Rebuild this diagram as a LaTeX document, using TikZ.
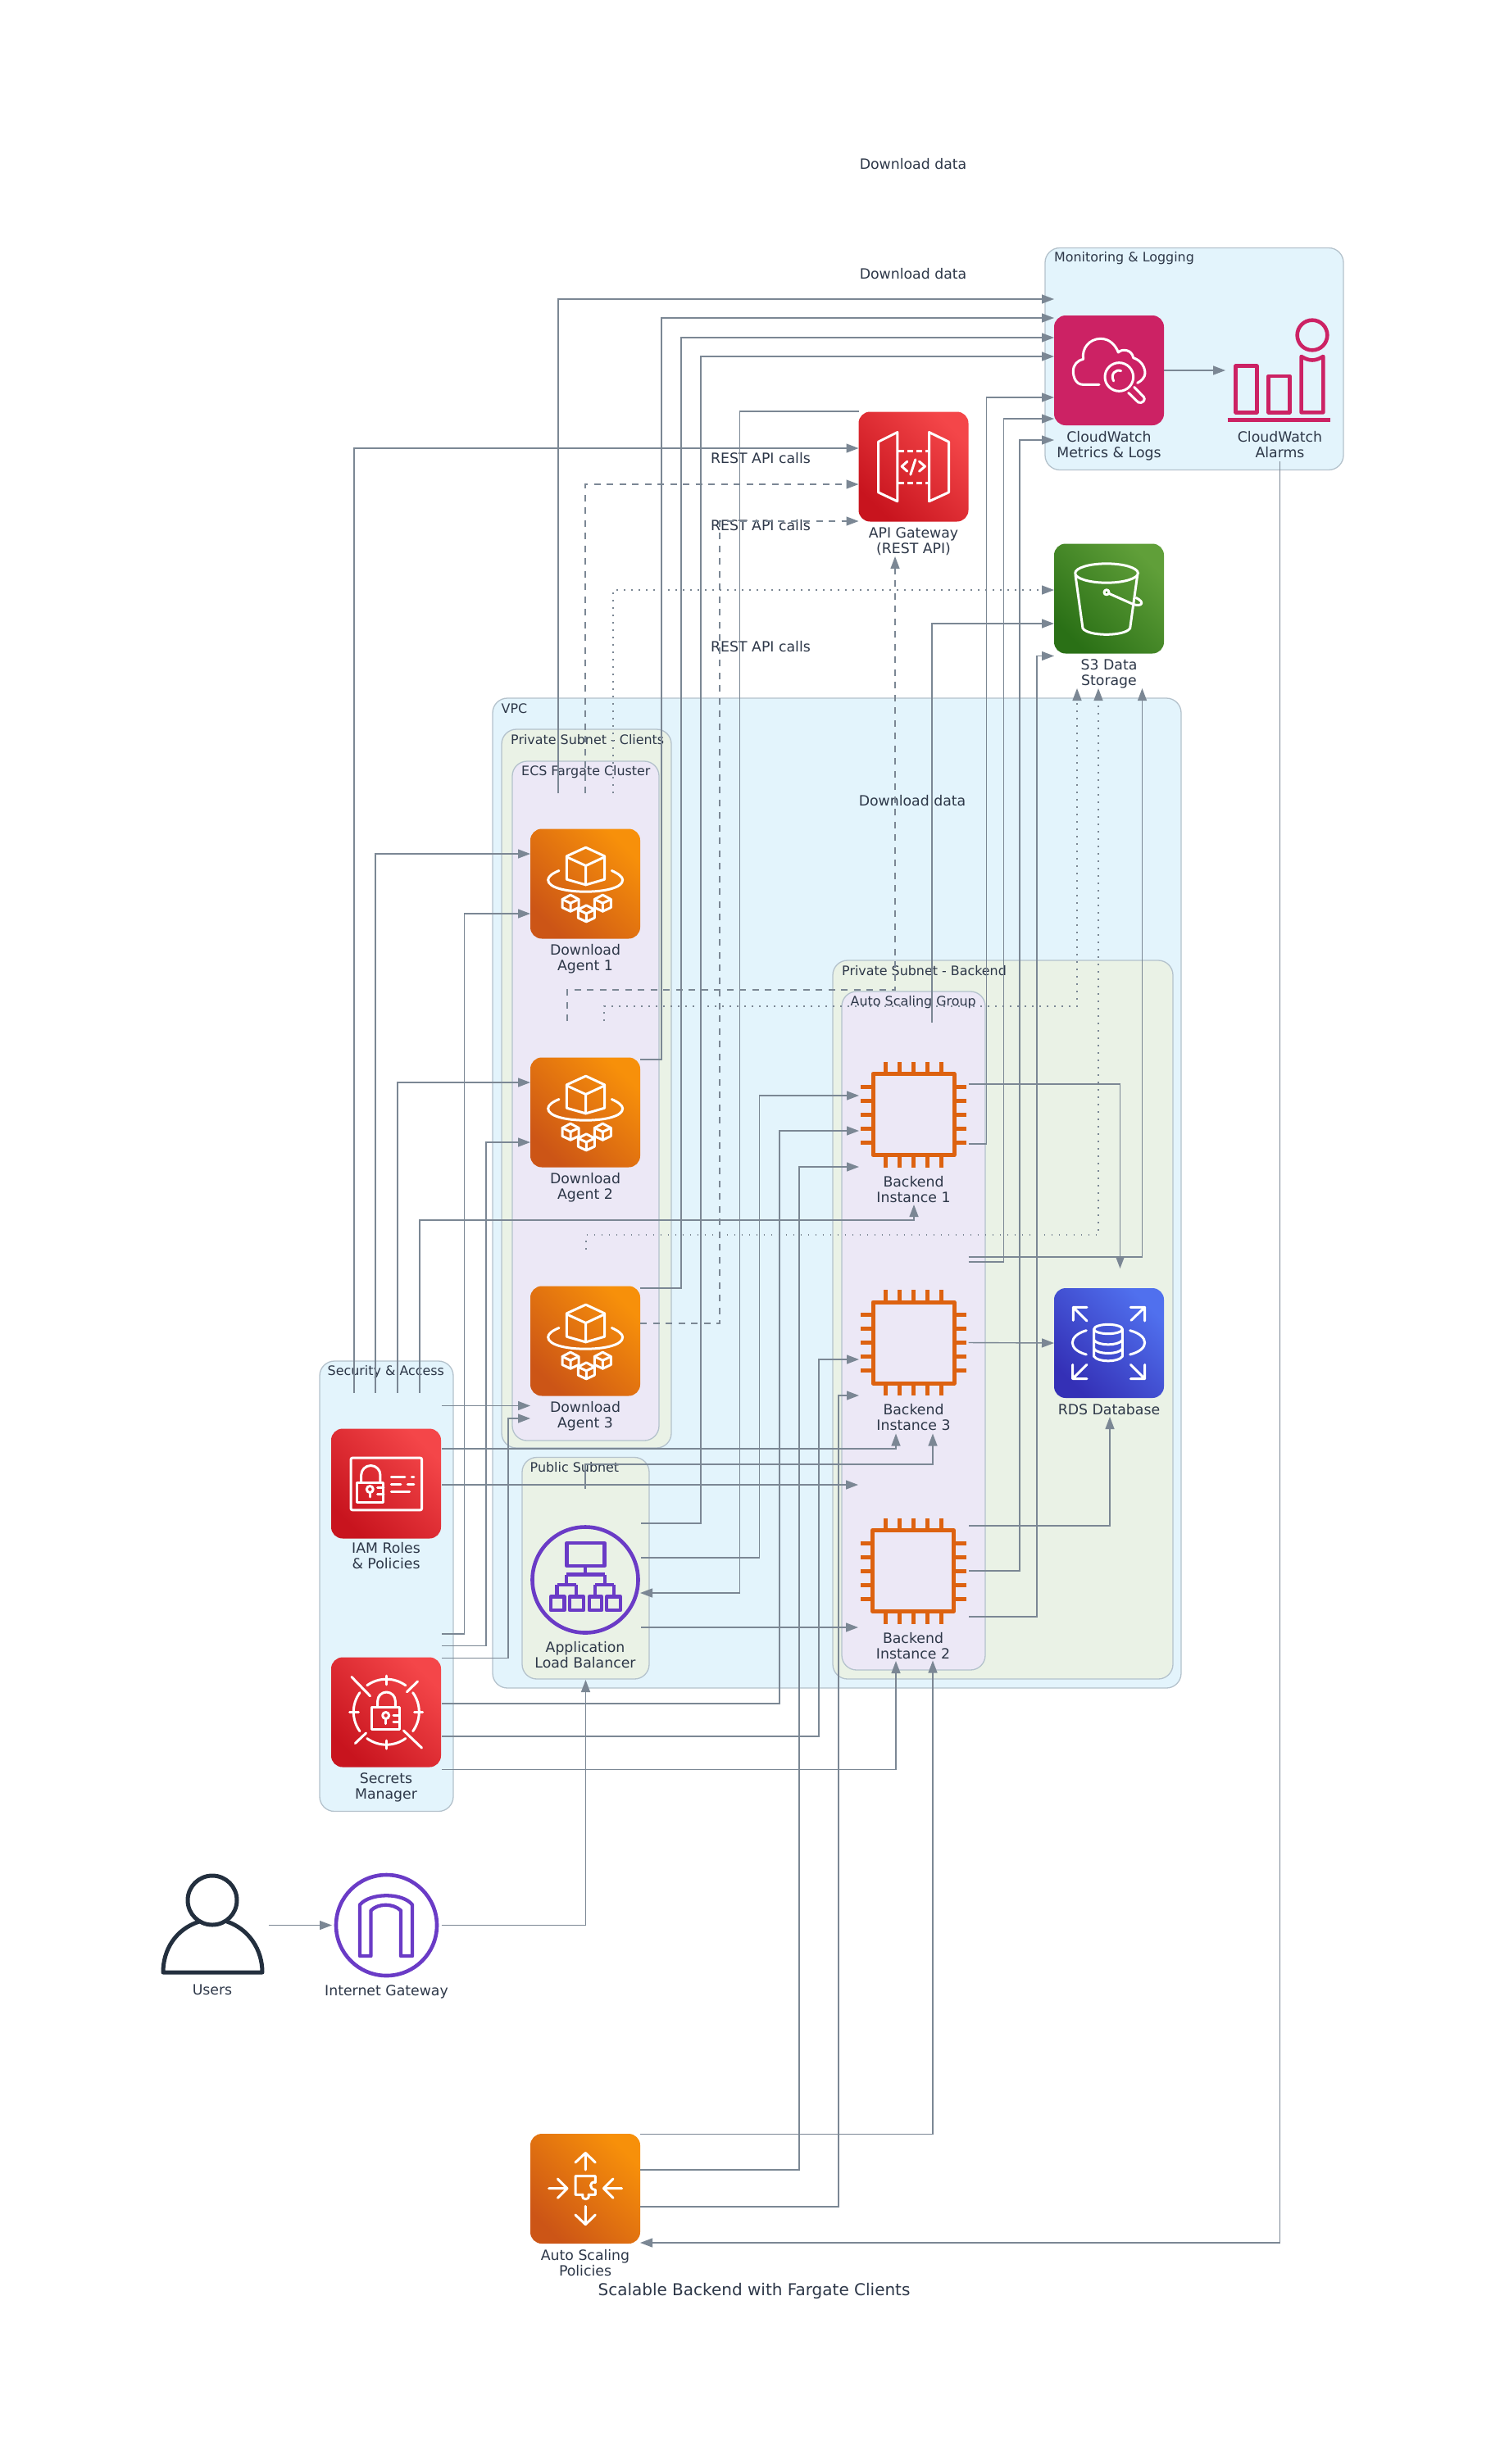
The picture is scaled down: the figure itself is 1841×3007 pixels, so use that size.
\documentclass[tikz,border=0pt]{standalone}
\usepackage{fontspec}
\setmainfont{DejaVu Sans}
\usetikzlibrary{arrows.meta,positioning}
\definecolor{flowline}{HTML}{7B8794}
\definecolor{txt}{HTML}{2D3748}
\definecolor{zoneline}{HTML}{B4C2CC}
\definecolor{zoneblue}{HTML}{E3F4FC}
\definecolor{zonegreen}{HTML}{EAF2E6}
\definecolor{zonepurple}{HTML}{ECE8F6}
\definecolor{orangelow}{HTML}{CC5516}
\definecolor{orangehigh}{HTML}{F7900A}
\definecolor{redlow}{HTML}{C8141E}
\definecolor{redhigh}{HTML}{F44649}
\definecolor{bluelow}{HTML}{3430B6}
\definecolor{bluehigh}{HTML}{5070EE}
\definecolor{greenlow}{HTML}{2A7016}
\definecolor{greenhigh}{HTML}{609F39}
\definecolor{pinkflat}{HTML}{CC2264}
\definecolor{chiporange}{HTML}{DD6210}
\definecolor{netpurple}{HTML}{6A3BC6}
\definecolor{usernavy}{HTML}{232F3E}

% glyphs, in crop units of a third of a pixel from the top left corner of the icon
\newcommand{\fargateglyph}[1]{
  \begin{scope}[shift={(#1.north west)},x=0.3333pt,y=-0.3333pt,glyph=white]
    \draw (203,68) -- (272,100) -- (272,185) -- (203,205) -- (133,185) -- (133,100) -- cycle;
    \draw (133,103) -- (203,135) -- (272,103) (203,135) -- (203,205);
    \draw (105,153) .. controls (80,163) and (65,175) .. (65,187) .. controls (65,215) and (130,230) .. (202,230) .. controls (275,230) and (338,215) .. (338,187) .. controls (338,175) and (320,163) .. (298,153);
    \foreach \cx/\cy in {147/272,205/310,265/272} {
      \begin{scope}[shift={(\cx,\cy)}]
        \draw (0,-30) -- (30,-14) -- (30,16) -- (0,30) -- (-30,16) -- (-30,-14) -- cycle;
        \draw (-30,-14) -- (0,0) -- (30,-14) (0,0) -- (0,30);
      \end{scope}
    }
  \end{scope}
}
\newcommand{\watchglyph}[1]{
  \begin{scope}[shift={(#1.north west)},x=0.3333pt,y=-0.3333pt,glyph=white]
    \draw (165,253) -- (105,253) .. controls (80,253) and (70,225) .. (70,205) .. controls (70,180) and (85,165) .. (107,160) .. controls (100,120) and (130,85) .. (170,85) .. controls (205,85) and (225,110) .. (235,135) .. controls (250,120) and (285,125) .. (290,155) .. controls (320,165) and (333,190) .. (333,212) .. controls (333,225) and (320,240) .. (305,247);
    \draw (238,225) circle[radius=52];
    \draw (218,240) .. controls (205,215) and (225,195) .. (245,203);
    \draw (272,283) -- (308,318) .. controls (322,325) and (338,308) .. (328,298) -- (293,262);
  \end{scope}
}
\newcommand{\alarmglyph}[1]{
  \begin{scope}[shift={(#1.center)},x=0.3333pt,y=-0.3333pt,xshift=-275.5pt,yshift=67pt,glyph=pinkflat,line width=4.6pt]
    \draw (945,72) circle[radius=55];
    \draw (665,185) rectangle (742,355);
    \draw (785,222) rectangle (862,355);
    \draw (905,150) .. controls (935,168) and (955,168) .. (985,150) -- (985,355) -- (905,355) -- cycle;
    \draw[line cap=butt] (635,382) -- (1012,382);
  \end{scope}
}
\newcommand{\gatewayglyph}[1]{
  \begin{scope}[shift={(#1.north west)},x=0.3333pt,y=-0.3333pt,glyph=white]
    \draw (72,110) -- (142,75) -- (142,328) -- (72,295) -- cycle;
    \draw (258,75) -- (330,110) -- (330,295) -- (258,328) -- cycle;
    \draw[line cap=butt,dash pattern=on 6.5pt off 4.5pt] (146,143) -- (256,143);
    \draw[line cap=butt,dash pattern=on 6.5pt off 4.5pt] (146,260) -- (256,260);
    \draw (178,182) -- (158,200) -- (178,218) (222,182) -- (243,200) -- (222,218) (208,175) -- (190,230);
  \end{scope}
}
\newcommand{\bucketglyph}[1]{
  \begin{scope}[shift={(#1.north west)},x=0.3333pt,y=-0.3333pt,glyph=white]
    \draw (192,108) ellipse[x radius=115,y radius=35];
    \draw (78,115) -- (105,310) .. controls (125,340) and (258,340) .. (278,310) -- (305,115);
    \draw (192,178) circle[radius=9];
    \draw (200,182) -- (290,222) .. controls (320,232) and (335,215) .. (300,198);
  \end{scope}
}
\newcommand{\rdsglyph}[1]{
  \begin{scope}[shift={(#1.north west)},x=0.3333pt,y=-0.3333pt,glyph=white]
    \draw (198,150) ellipse[x radius=52,y radius=17];
    \draw (146,150) -- (146,250) .. controls (160,272) and (236,272) .. (250,250) -- (250,150);
    \draw (146,190) .. controls (160,212) and (236,212) .. (250,190);
    \draw (146,222) .. controls (160,244) and (236,244) .. (250,222);
    \draw (118,155) .. controls (50,175) and (50,225) .. (118,243);
    \draw (278,155) .. controls (350,175) and (350,225) .. (278,243);
    \draw (120,120) -- (70,70) (120,70) -- (70,70) -- (70,118);
    \draw (282,118) -- (332,70) (280,70) -- (332,70) -- (332,120);
    \draw (120,280) -- (68,332) (68,280) -- (68,332) -- (120,332);
    \draw (280,280) -- (332,332) (280,332) -- (332,332) -- (332,280);
  \end{scope}
}
\newcommand{\rolesglyph}[1]{
  \begin{scope}[shift={(#1.north west)},x=0.3333pt,y=-0.3333pt,glyph=white]
    \draw[rounded corners=2pt] (72,107) rectangle (332,298);
    \draw (93,197) rectangle (192,270);
    \draw (110,197) -- (110,170) arc[start angle=180,end angle=360,radius=35] -- (180,197);
    \draw (142,222) circle[radius=12];
    \draw (142,234) -- (142,250);
    \draw (170,215) -- (192,215) (170,240) -- (192,240);
    \draw (220,178) -- (270,178) (295,178) -- (303,178) (220,205) -- (255,205) (280,205) -- (303,205) (220,232) -- (287,232);
  \end{scope}
}
\newcommand{\secretsglyph}[1]{
  \begin{scope}[shift={(#1.north west)},x=0.3333pt,y=-0.3333pt,glyph=white]
    \foreach \a/\b in {234/306,54/126,144/216,-36/36}
      \draw ({202+120*cos(\a)},{200+120*sin(\a)}) arc[start angle=\a,end angle=\b,radius=120];
    \draw (202,68) -- (202,100) (202,305) -- (202,335) (68,200) -- (100,200) (305,200) -- (335,200);
    \draw (75,72) -- (143,142) (265,268) -- (332,332) (317,88) -- (277,127) (128,277) -- (88,315);
    \draw (150,183) rectangle (250,263);
    \draw (170,183) -- (170,160) arc[start angle=180,end angle=360,radius=32.5] -- (235,183);
    \draw (200,213) circle[radius=12];
    \draw (200,225) -- (200,243);
    \draw (228,213) -- (250,213) (228,238) -- (250,238);
  \end{scope}
}
\newcommand{\scalingglyph}[1]{
  \begin{scope}[shift={(#1.north west)},x=0.3333pt,y=-0.3333pt,glyph=white]
    \draw (202,132) -- (202,70) (165,105) -- (202,70) -- (238,105);
    \draw (202,265) -- (202,332) (165,297) -- (202,332) -- (238,297);
    \draw (68,200) -- (135,200) (100,165) -- (135,200) -- (100,235);
    \draw (335,200) -- (268,200) (303,165) -- (268,200) -- (303,235);
    \draw (165,155) -- (238,155) -- (238,178) .. controls (215,172) and (215,205) .. (238,205) -- (238,223) -- (213,223) .. controls (220,245) and (185,245) .. (192,223) -- (165,223) -- cycle;
  \end{scope}
}
\newcommand{\chipglyph}[1]{
  \begin{scope}[shift={(#1.center)},glyph=chiporange,line width=5pt,line cap=butt]
    \draw (-49.5,-49.5) rectangle (49.5,49.5);
    \foreach \p in {-34,-17,0,17,34} {
      \draw (\p,-52) -- (\p,-64.5) (\p,52) -- (\p,64.5);
      \draw (-52,\p) -- (-64.5,\p) (52,\p) -- (64.5,\p);
    }
  \end{scope}
}
\newcommand{\balancerglyph}[1]{
  \begin{scope}[shift={(#1.center)},glyph=netpurple,line width=4.3pt,line cap=butt]
    \draw[line width=4.6pt] (0,0) circle[radius=64.5];
    \draw (-22.5,-45) rectangle (23.5,-17);
    \draw (0,-17) -- (0,-6.5) (-23,-6.5) -- (24,-6.5) (-23,-6.5) -- (-23,6) (24,-6.5) -- (24,6);
    \draw (-34.5,6) -- (-11,6) (12,6) -- (35,6);
    \foreach \bx in {-34.5,-11,12,35} \draw (\bx,6) -- (\bx,20.5);
    \draw (-42,20.5) rectangle (-25.5,37) (-19,20.5) rectangle (-2,37) (5,20.5) rectangle (20,37) (26,20.5) rectangle (43,37);
  \end{scope}
}
\newcommand{\internetglyph}[1]{
  \begin{scope}[shift={(#1.center)},glyph=netpurple,line width=4.3pt]
    \draw[line width=4.6pt] (0,0) circle[radius=61.5];
    \draw (-32.5,37.5) -- (-32.5,-25) .. controls (-20,-40) and (20,-40) .. (31.5,-25) -- (31.5,37.5) -- (17.5,37.5) -- (17.5,-18) .. controls (8,-27) and (-10,-27) .. (-19,-18) -- (-19,37.5) -- cycle;
  \end{scope}
}
\newcommand{\userglyph}[1]{
  \begin{scope}[shift={(#1.center)},glyph=usernavy,line width=5pt]
    \draw (0,-30.5) circle[radius=30];
    \draw (-16,-4.5) .. controls (-45,5) and (-60,30) .. (-60,57.5) -- (61,57.5) .. controls (61,30) and (45,5) .. (18,-4.5);
  \end{scope}
}

\begin{document}
\begin{tikzpicture}[
  x=1pt,y=-1pt,
  font=\fontsize{17.3}{19}\selectfont,
  text=txt,
  zone/.style={
    draw=zoneline,
    line width=1.3pt,
    rounded corners=18pt,
    anchor=north west,
    inner sep=0pt,
    outer sep=0pt
  },
  zonelbl/.style={font=\fontsize{15.9}{18}\selectfont, anchor=west, inner sep=0pt},
  icon/.style={
    minimum size=134pt,
    inner sep=0pt,
    outer sep=0pt
  },
  tile/.style n args={2}{
    icon,
    rounded corners=14pt,
    bottom color=#1,
    top color=#2,
    shading angle=-45
  },
  lbl/.style={align=center, inner sep=0pt, below=7pt of #1},
  edgelbl/.style={inner sep=0pt},
  glyph/.style={color=#1, line width=3pt, line join=round, line cap=round},
  flow/.style={-{Triangle[length=15pt,width=11pt]}, line width=1.4pt, draw=flowline},
  flowdash/.style={flow, dash pattern=on 8pt off 7.5pt},
  flowdot/.style={flow, dash pattern=on 1.6pt off 7.4pt}
]
  \useasboundingbox (0,0) rectangle (1841,3007);

  % Zones
  \node[zone, fill=zoneblue, minimum width=364pt, minimum height=271pt] (monitor) at (1275,302.5) {};
  \node[zone, fill=zoneblue, minimum width=840pt, minimum height=1208pt] (vpc) at (601,852) {};
  \node[zone, fill=zonegreen, minimum width=207pt, minimum height=877pt] (clients) at (612,890) {};
  \node[zone, fill=zonepurple, minimum width=179pt, minimum height=829pt] (ecs) at (625,929) {};
  \node[zone, fill=zonegreen, minimum width=415pt, minimum height=877pt] (backend) at (1016,1172) {};
  \node[zone, fill=zonepurple, minimum width=175pt, minimum height=828pt] (asg) at (1027,1210) {};
  \node[zone, fill=zonegreen, minimum width=155pt, minimum height=270.5pt] (public) at (637,1778.5) {};
  \node[zone, fill=zoneblue, minimum width=163pt, minimum height=549.5pt] (security) at (390,1661) {};

  \node[zonelbl] (monitorlbl) at ([shift={(11,12.5)}]monitor.north west) {Monitoring \& Logging};
  \node[zonelbl] (vpclbl) at ([shift={(10.5,12.5)}]vpc.north west) {VPC};
  \node[zonelbl] (clientslbl) at ([shift={(11,12.5)}]clients.north west) {Private Subnet - Clients};
  \node[zonelbl] (ecslbl) at ([shift={(11,13.5)}]ecs.north west) {ECS Fargate Cluster};
  \node[zonelbl] (backendlbl) at ([shift={(11,12.5)}]backend.north west) {Private Subnet - Backend};
  \node[zonelbl] (asglbl) at ([shift={(10.5,13.5)}]asg.north west) {Auto Scaling Group};
  \node[zonelbl] (publiclbl) at ([shift={(9.5,12.5)}]public.north west) {Public Subnet};
  \node[zonelbl] (securitylbl) at ([shift={(9.5,13)}]security.north west) {Security \& Access};

  % Icons
  \node[icon, rounded corners=14pt, fill=pinkflat] (cw) at (1353,452) {};
  \node[icon, minimum size=127pt] (alarm) at (1561.5,452) {};
  \node[tile={redlow}{redhigh}] (api) at (1114.5,569.5) {};
  \node[tile={greenlow}{greenhigh}] (s3) at (1353,730.5) {};
  \node[tile={orangelow}{orangehigh}] (agentA) at (714,1078.5) {};
  \node[tile={orangelow}{orangehigh}] (agentB) at (714,1357.5) {};
  \node[tile={orangelow}{orangehigh}] (agentC) at (714,1636.5) {};
  \node[icon, minimum size=130pt] (chipA) at (1114.5,1360) {};
  \node[icon, minimum size=130pt] (chipC) at (1114.5,1638.5) {};
  \node[icon, minimum size=130pt] (chipB) at (1114,1917) {};
  \node[tile={bluelow}{bluehigh}] (rds) at (1353,1639) {};
  \node[tile={redlow}{redhigh}] (iam) at (471,1810.5) {};
  \node[tile={redlow}{redhigh}] (secrets) at (471,2089.5) {};
  \node[icon] (alb) at (714,1928) {};
  \node[icon, minimum size=127pt] (users) at (259,2349.5) {};
  \node[icon, minimum size=127pt] (igw) at (471.5,2349.5) {};
  \node[tile={orangelow}{orangehigh}] (asp) at (714,2671) {};

  \watchglyph{cw}
  \alarmglyph{alarm}
  \gatewayglyph{api}
  \bucketglyph{s3}
  \foreach \n in {agentA,agentB,agentC} {\fargateglyph{\n}}
  \foreach \n in {chipA,chipC,chipB} {\chipglyph{\n}}
  \rdsglyph{rds}
  \rolesglyph{iam}
  \secretsglyph{secrets}
  \balancerglyph{alb}
  \userglyph{users}
  \internetglyph{igw}
  \scalingglyph{asp}

  % Icon labels
  \node[lbl=cw] (cwlbl) {CloudWatch\\Metrics \& Logs};
  \node[lbl=alarm, yshift=-4pt] (alarmlbl) {CloudWatch\\Alarms};
  \node[lbl=api] (apilbl) {API Gateway\\(REST API)};
  \node[lbl=s3] (s3lbl) {S3 Data\\Storage};
  \node[lbl=agentA] (agentAlbl) {Download\\Agent 1};
  \node[lbl=agentB] (agentBlbl) {Download\\Agent 2};
  \node[lbl=agentC] (agentClbl) {Download\\Agent 3};
  \node[lbl=chipA, yshift=-3pt] (chipAlbl) {Backend\\Instance 1};
  \node[lbl=chipC, yshift=-3pt] (chipClbl) {Backend\\Instance 3};
  \node[lbl=chipB, yshift=-3pt] (chipBlbl) {Backend\\Instance 2};
  \node[lbl=rds] (rdslbl) {RDS Database};
  \node[lbl=iam, yshift=2pt] (iamlbl) {IAM Roles\\\& Policies};
  \node[lbl=secrets] (secretslbl) {Secrets\\Manager};
  \node[lbl=alb, yshift=-1pt] (alblbl) {Application\\Load Balancer};
  \node[lbl=users, yshift=-2pt] (userslbl) {Users};
  \node[lbl=igw, yshift=-2pt] (igwlbl) {Internet Gateway};
  \node[lbl=asp] (asplbl) {Auto Scaling\\Policies};

  % Floating labels
  \node[edgelbl] (dataA) at (1114,200) {Download data};
  \node[edgelbl] (dataB) at (1114,334) {Download data};
  \node[edgelbl] (dataC) at (1113,977) {Download data};
  \node[edgelbl] (restA) at (928,559) {REST API calls};
  \node[edgelbl] (restB) at (928,641) {REST API calls};
  \node[edgelbl] (restC) at (928,789) {REST API calls};
  \node[edgelbl, font=\fontsize{20}{22}\selectfont] (diagramtitle) at (920,2796) {Scalable Backend with Fargate Clients};

  % To CloudWatch
  \draw[flow] ([shift={(-33,-43.5)}]agentA.north) |- ([shift={(0,-87)}]cw.west);
  \draw[flow] ([shift={(0,-64.5)}]agentB.east) -- ++(26,0) |- ([shift={(0,-64)}]cw.west);
  \draw[flow] ([shift={(0,-64.5)}]agentC.east) -- ++(50,0) |- ([shift={(0,-40)}]cw.west);
  \draw[flow] ([shift={(1,-69)}]alb.east) -- ++(73,0) |- ([shift={(0,-17)}]cw.west);
  \draw[flow] ([shift={(2,36)}]chipA.east) -- ++(22,0) |- ([shift={(0,33)}]cw.west);
  \draw[flow] ([shift={(2,-98.5)}]chipC.east) -- ++(43,0) |- ([shift={(0,59)}]cw.west);
  \draw[flow] ([shift={(3,0)}]chipB.east) -- ++(62,0) |- ([shift={(0,85)}]cw.west);
  \draw[flow] (cw.east) -- ([shift={(-3,0)}]alarm.west);

  % To S3
  \draw[flow] ([shift={(3,56)}]chipB.east) -- ++(83,0) |- ([shift={(0,70)}]s3.west);
  \draw[flow] ([shift={(22.5,-47)}]chipA.north) |- ([shift={(0,30.5)}]s3.west);
  \draw[flowdot] ([shift={(34,-43.5)}]agentA.north) |- ([shift={(0,-10.5)}]s3.west);
  \draw[flowdot] ([shift={(23,-44.5)}]agentB.north) -- ++(0,-18) -| ([shift={(-39,42.5)}]s3.south);
  \draw[flowdot] ([shift={(1,-45)}]agentC.north) -- ++(0,-17.5) -| ([shift={(-13,42.5)}]s3.south);
  \draw[flow] ([shift={(2,-104.5)}]chipC.east) -| ([shift={(40.5,42.5)}]s3.south);

  % API Gateway
  \draw[flow] ([shift={(-39,-43.5)}]iam.north) |- ([shift={(0,-22.5)}]api.west);
  \draw[flow] ([shift={(0,-67.5)}]api.west) -- ++(-145,0) |- ([shift={(0,16)}]alb.east);
  \draw[flowdash] ([shift={(0,-43.5)}]agentA.north) |- ([shift={(0,21.5)}]api.west);
  \draw[flowdash] ([shift={(0,-21.5)}]agentC.east) -- ++(97,0) |- ([shift={(0,66.5)}]api.west);
  \draw[flowdash] ([shift={(-22,-44.5)}]agentB.north) -- ++(0,-38) -| ([shift={(-22.5,42.5)}]api.south);

  % To RDS
  \draw[flow] ([shift={(2,-37)}]chipA.east) -| ([shift={(13.5,-24)}]rds.north);
  \draw[flow] ([shift={(2,0)}]chipC.east) -- (rds.west);
  \draw[flow] ([shift={(3,-55)}]chipB.east) -| ([shift={(1,23)}]rds.south);

  % Security to agents
  \draw[flow] ([shift={(-13,-43.5)}]iam.north) |- ([shift={(0,-36.5)}]agentA.west);
  \draw[flow] ([shift={(1,-95.5)}]secrets.east) -- ++(27.5,0) |- ([shift={(0,36.5)}]agentA.west);
  \draw[flow] ([shift={(14,-43.5)}]iam.north) |- ([shift={(0,-36.5)}]agentB.west);
  \draw[flow] ([shift={(1,-81)}]secrets.east) -- ++(54,0) |- ([shift={(0,36.5)}]agentB.west);
  \draw[flow] ([shift={(1,-95)}]iam.east) -- ([shift={(0,79)}]agentC.west);
  \draw[flow] ([shift={(1,-66)}]secrets.east) -- ++(81,0) |- ([shift={(0,94.5)}]agentC.west);

  % Into the backend instances
  \draw[flow] ([shift={(41,-43.5)}]iam.north) -- ++(0,-211) -| ([shift={(0.5,45)}]chipA.south);
  \draw[flow] ([shift={(1,-42.5)}]iam.east) -| ([shift={(-21.5,46)}]chipC.south);
  \draw[flow] ([shift={(0,-44)}]alb.north) -- ++(0,-30) -| ([shift={(23.5,46)}]chipC.south);
  \draw[flow] ([shift={(1,1.5)}]iam.east) -- ([shift={(-2,-105)}]chipB.west);
  \draw[flow] ([shift={(1,58)}]alb.east) -- ([shift={(-2,69)}]chipB.west);
  \draw[flow] ([shift={(1,-27)}]alb.east) -- ++(144.5,0) |- ([shift={(-1.5,-23)}]chipA.west);
  \draw[flow] ([shift={(1,-10.5)}]secrets.east) -- ++(412,0) |- ([shift={(-1.5,20)}]chipA.west);
  \draw[flow] ([shift={(0,-23)}]asp.east) -- ++(194,0) |- ([shift={(-1.5,64)}]chipA.west);
  \draw[flow] ([shift={(1,29.5)}]secrets.east) -- ++(460,0) |- ([shift={(-1.5,20.5)}]chipC.west);
  \draw[flow] ([shift={(0,22)}]asp.east) -- ++(242,0) |- ([shift={(-1.5,64.5)}]chipC.west);
  \draw[flow] ([shift={(0,-66.5)}]asp.east) -| ([shift={(24,44.5)}]chipB.south);
  \draw[flow] ([shift={(1,70)}]secrets.east) -| ([shift={(-21,45)}]chipB.south);

  % Entry and scaling
  \draw[flow] ([shift={(5,0)}]users.east) -- ([shift={(-3,0)}]igw.west);
  \draw[flow] ([shift={(3.5,0)}]igw.east) -| ([shift={(0.5,55)}]alb.south);
  \draw[flow] ([shift={(0,47.5)}]alarm.south) |- ([shift={(0,66)}]asp.east);
\end{tikzpicture}
\end{document}
